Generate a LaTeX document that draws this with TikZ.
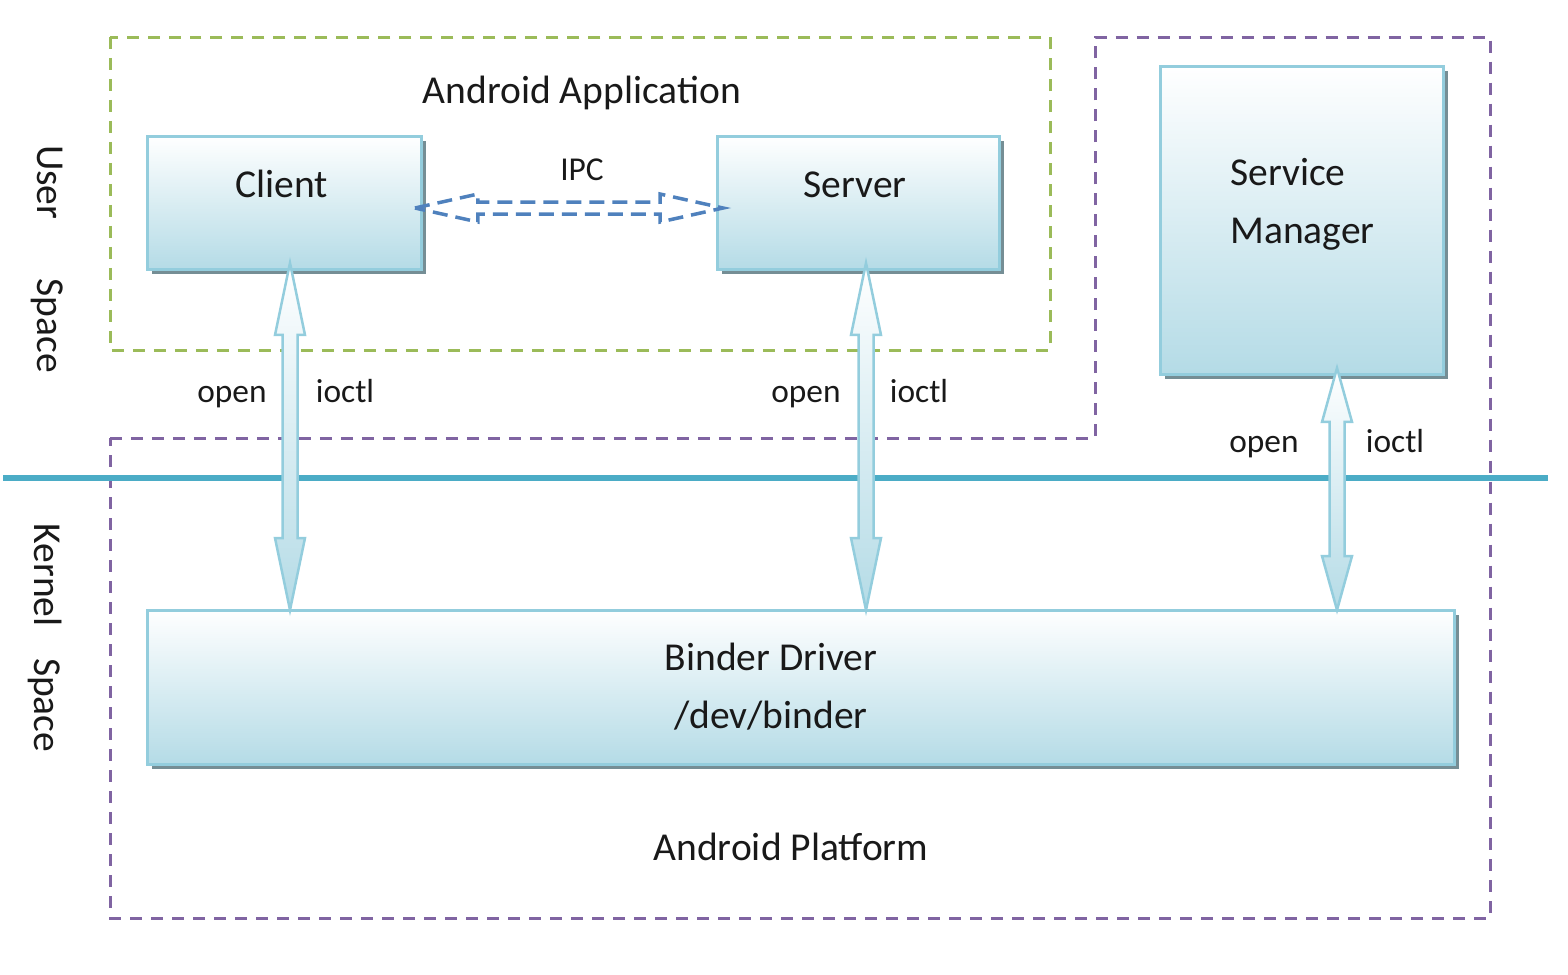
\documentclass[tikz,border=0pt]{standalone}
\usepackage{fontspec}
\setmainfont{Carlito}
\usetikzlibrary{calc}
\usetikzlibrary{shadows}
\definecolor{boxline}{HTML}{93CDDD}
\definecolor{boxfill}{HTML}{B4DBE6}
\definecolor{userline}{HTML}{9BBB59}
\definecolor{platline}{HTML}{8064A2}
\definecolor{splitline}{HTML}{4BACC6}
\definecolor{ipcline}{HTML}{4F81BD}
% block arrow with two heads, #1 top tip, #2 bottom tip, #3 head length
\newcommand{\updown}[3]{%
  \path[blockarrow] (#1) -- ++(15,#3) -- ++(-7.5,0) -- ($(#2)+(7.5,-#3)$)
    -- ++(7.5,0) -- (#2) -- ++(-15,-#3) -- ++(7.5,0) -- ($(#1)+(-7.5,#3)$)
    -- ++(-7.5,0) -- cycle;}
% hollow dashed arrow with two heads, #1 left tip, #2 right tip
\newcommand{\leftright}[2]{%
  \draw[ipcarrow] (#1) -- ++(63,-14) -- ++(0,8) -- ($(#2)+(-63,-6)$)
    -- ++(0,-8) -- (#2) -- ++(-63,14) -- ++(0,-8) -- ($(#1)+(63,6)$)
    -- ++(0,8) -- cycle;}

\begin{document}
\begin{tikzpicture}[x=0.02cm,y=-0.02cm,
    big/.style={font=\fontsize{22.5}{33}\selectfont, text=black!90, inner sep=0pt},
    small/.style={font=\fontsize{19}{23}\selectfont, text=black!90, inner sep=0pt, anchor=base},
    box/.style={draw=boxline, line width=0.06cm, top color=white, bottom color=boxfill,
      inner sep=0pt, outer sep=0pt,
      drop shadow={shadow xshift=0.09cm, shadow yshift=-0.09cm, fill=black!35!boxfill, opacity=1}},
    blockarrow/.style={draw=boxline, line width=0.05cm, top color=white, bottom color=boxfill, line join=miter},
    ipcarrow/.style={draw=ipcline, line width=0.07cm, dash pattern=on 0.3cm off 0.16cm},
    frame/.style={line width=0.06cm, dash pattern=on 0.24cm off 0.18cm}]
  \useasboundingbox (0,0) rectangle (1568,974);

  % dashed frames
  \draw[frame, userline] (110,37) rectangle (1050,350);
  \draw[frame, platline] (110,438) -- (1095,438) -- (1095,37) -- (1490,37)
    -- (1490,918) -- (110,918) -- cycle;

  % user / kernel split
  \draw[splitline, line width=0.12cm] (3,478) -- (1548,478);
  \node[big, rotate=-90] (us) at (47,259) {User\hspace{1.5em}Space};
  \node[big, rotate=-90] (ks) at (45,638) {Kernel\hspace{0.8em}Space};

  % boxes
  \node[box, minimum width=5.5cm, minimum height=2.68cm] (cl) at (284.5,203) {};
  \node[box, minimum width=5.66cm, minimum height=2.68cm] (sv) at (858.5,203) {};
  \node[box, minimum width=5.68cm, minimum height=6.18cm] (sm) at (1302,220.5) {};
  \node[box, minimum width=26.16cm, minimum height=3.1cm] (bd) at (801,687.5) {};

  \node[big, anchor=base] (cltxt) at (282,197) {Client};
  \node[big, anchor=base] (svtxt) at (855,197) {Server};
  \node[big, anchor=base west, align=left] (smtxt) at (1230,243) {Service\\Manager};
  \node[big, anchor=base, align=center] (bdtxt) at (771,728) {Binder Driver\\/dev/binder};
  \node[big, anchor=base] (app) at (582,103) {Android Application};
  \node[big, anchor=base] (plat) at (791,860) {Android Platform};

  % IPC between client and server
  \coordinate (ipcl) at ($(cl.east)+(-7,5)$);
  \coordinate (ipcr) at ($(sv.west)+(6,5)$);
  \leftright{ipcl}{ipcr}
  \node[small] (ipc) at (582,180) {IPC};

  % open / ioctl arrows down to the driver
  \coordinate (clt) at ($(cl.south)+(5.5,-7)$);
  \coordinate (clb) at (clt |- bd.north);
  \coordinate (svt) at ($(sv.south)+(7.5,-7)$);
  \coordinate (svb) at (svt |- bd.north);
  \coordinate (smt) at ($(sm.south)+(35,-7)$);
  \coordinate (smb) at (smt |- bd.north);
  \updown{clt}{clb}{72}
  \updown{svt}{svb}{72}
  \updown{smt}{smb}{54}

  \node[small] (o1) at (232,402) {open};
  \node[small] (i1) at (345,402) {ioctl};
  \node[small] (o2) at (806,402) {open};
  \node[small] (i2) at (919,402) {ioctl};
  \node[small] (o3) at (1264,452) {open};
  \node[small] (i3) at (1395,452) {ioctl};
\end{tikzpicture}
\end{document}
